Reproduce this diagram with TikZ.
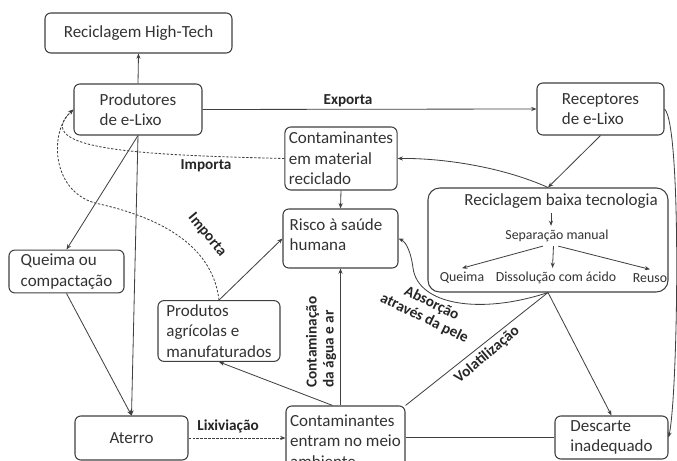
\documentclass[tikz,border=0pt]{standalone}
\usepackage{fontspec}
\setmainfont{Carlito}
\usepackage{tikz}
\usetikzlibrary{arrows.meta, positioning}

\begin{document}
\begin{tikzpicture}[x=0.03cm, y=-0.03cm,
    box/.style={draw=black!75, line width=0.9pt, rounded corners=5pt, align=left, text=black!80, font=\fontsize{14.5}{17.5}\selectfont},
    sub/.style={text=black!80, font=\fontsize{11.8}{13.5}\selectfont},
    lbl/.style={text=black!85, font=\fontsize{13}{14.5}\selectfont\bfseries, align=center},
    conn/.style={draw=black!75, line width=0.7pt, -{Stealth[length=4.5pt, width=3.5pt]}},
    imp/.style={conn, dash pattern=on 2pt off 1.4pt}
]
    \useasboundingbox (0,0) rectangle (677,461);
    \clip (0,0) rectangle (677,461);
    \fill[white] (0,0) rectangle (677,461);

    % Boxes
    \node (hightech) [box, minimum width=5.61cm, minimum height=1.2cm] at (138.5,33) {Reciclagem High-Tech};
    \node (prod) [box, minimum width=3.84cm, minimum height=1.53cm] at (138,109.5) {Produtores\\de e-Lixo};
    \node (recep) [box, minimum width=3.81cm, minimum height=1.56cm] at (600.5,109) {Receptores\\de e-Lixo};
    \node (cmr) [box, minimum width=3.24cm, minimum height=1.89cm] at (341,158.5) {Contaminantes\\em material\\reciclado};
    \node (risco) [box, minimum width=3.45cm, minimum height=1.77cm] at (340.5,238.5) {};
    \node (risco_txt) [box, draw=none] at (336,234.5) {Risco à saúde\\humana};
    \node (queima) [box, minimum width=3.45cm, minimum height=1.17cm] at (66.5,271.5) {Queima ou\\compactação};
    \node (prodag) [box, minimum width=3.66cm, minimum height=1.8cm] at (219,331) {Produtos\\agrícolas e\\manufaturados};
    \node (aterro) [box, minimum width=3.39cm, minimum height=1.32cm] at (131.5,438) {Aterro};
    \node (cent) [box, minimum width=3.57cm, minimum height=2.1cm] at (345.5,441) {Contaminantes\\entram no meio\\ambiente};
    \node (desc) [box, minimum width=3.39cm, minimum height=1.29cm] at (611.5,437.5) {Descarte\\inadequado};

    % Reciclagem baixa tecnologia
    \node (rbt) [box, rounded corners=10pt, minimum width=7.2cm, minimum height=3.12cm] at (548,240) {};
    \node (rbt_title) [box, draw=none] at (561,201) {Reciclagem baixa tecnologia};
    \coordinate (rbt_in) at (551,213);
    \node (sman) [sub] at (557,236) {Separação manual};
    \node (iq) [sub] at (462,278) {Queima};
    \node (idis) [sub] at (556,278) {Dissolução com ácido};
    \node (ireu) [sub] at (650,278) {Reuso};
    \draw [conn] (rbt_in) -- (rbt_in |- sman.north);
    \draw [conn] ([xshift=-12pt]sman.south) -- (iq.north);
    \draw [conn] ([xshift=-3pt]sman.south) -- ([xshift=-3pt]idis.north);
    \draw [conn] ([xshift=1pt]sman.south) -- (ireu.north);

    % Connectors
    \draw [conn] (prod.north) -- (hightech.south);
    \draw [conn] (prod.east) -- (recep.west);
    \node (l_exp) [lbl] at (348,101) {Exporta};
    \draw [conn] (recep.south) -- (rbt.north);
    \draw [conn] (rbt.north) .. controls (500,166) and (440,158) .. (cmr.east);
    \draw [conn] (cmr.south) -- (risco.north);
    \draw [conn] (prod.south) -- (queima.north);
    \draw [conn] (prod.south) -- (aterro.north);
    \draw [conn] (queima.south) -- (aterro.north);
    \draw [imp] (aterro.east) -- (aterro.east -| cent.west);
    \node (l_lix) [lbl] at (228,426) {Lixiviação};
    \draw [conn] (prodag.north) -- (risco.west);
    \draw [conn] (cent.north -| risco.south) -- (risco.south);
    \node (l_cont) [lbl, rotate=90, align=left] at (321,342) {Contaminação\\da água e ar};
    \draw [conn] (cent.110) -- (prodag.south);
    \draw [draw=black!75, line width=0.7pt] (rbt.south) -- (cent.north east);
    \node (l_vol) [lbl, rotate=40] at (487,355) {Volatilização};
    \draw [conn] (rbt.south) .. controls (480,315) and (418,305) .. (413,268) .. controls (411,252) and (406,242) .. (risco.east);
    \node (l_abs) [lbl, rotate=-26] at (428,311) {Absorção\\através da pele};
    \draw [conn] (rbt.south) -- (desc.north);
    \draw [conn] (recep.east) .. controls (682,125) and (678,395) .. (desc.east);
    \draw [draw=black!75, line width=0.7pt] (desc.west) -- (desc.west -| cent.east);

    % Importa
    \draw [imp] (cmr.west) .. controls (140,155) and (30,150) .. (prod.west);
    \node (l_imp1) [lbl] at (206,166) {Importa};
    \draw [imp] (prodag.north) .. controls (212,240) and (150,215) .. (95,203) .. controls (50,190) and (50,130) .. (prod.west);
    \node (l_imp2) [lbl, rotate=-50] at (207,235) {Importa};
\end{tikzpicture}
\end{document}
